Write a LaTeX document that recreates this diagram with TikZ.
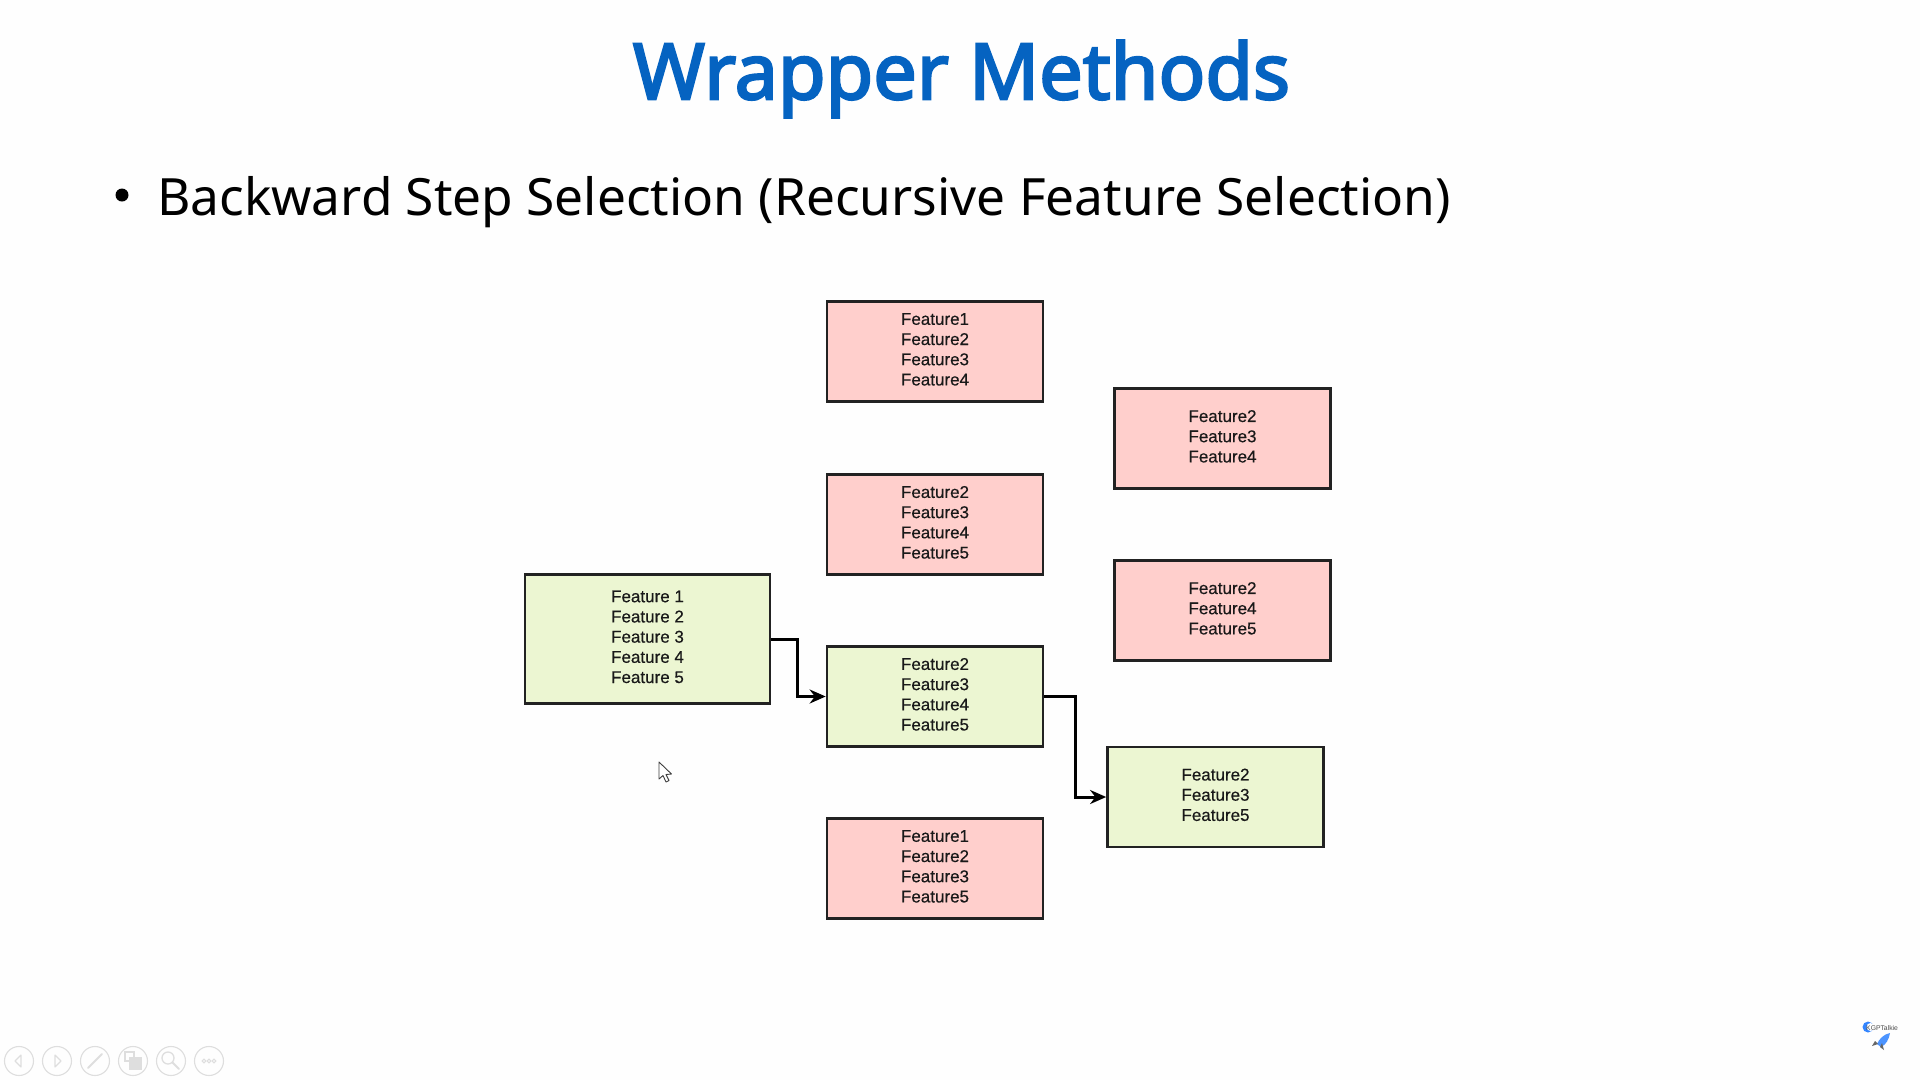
\documentclass[tikz,border=0pt]{standalone}
\usepackage{fontspec}
\setmainfont{Liberation Sans}
\newfontfamily\slidefont{Noto Sans}
\newfontfamily\titlefont[FakeBold=3]{Noto Sans}
\newfontfamily\boxfont[FakeBold=0.4]{Liberation Sans}
\usetikzlibrary{arrows.meta}
\definecolor{pagebg}{HTML}{FEFEFE}
\definecolor{pinkfill}{HTML}{FFCFCC}
\definecolor{greenfill}{HTML}{ECF6D2}
\definecolor{edgecol}{HTML}{222222}
\definecolor{titleblue}{HTML}{0563C1}
\definecolor{toolcol}{HTML}{DEDEDE}
\tikzset{
  x=1pt,y=-1pt,
  fbox/.style={draw=edgecol,line width=2.7pt,minimum width=216pt,minimum height=100pt,inner sep=0pt,
    align=center,text depth=4.5pt,font=\boxfont\fontsize{17}{20.2}\selectfont,text=black!90},
  pinkbox/.style={fbox,fill=pinkfill},
  greenbox/.style={fbox,fill=greenfill},
  conn/.style={draw=black,line width=3pt,-{Stealth[length=16pt,width=14pt]}},
  toolring/.style={draw=toolcol,line width=1.1pt,circle,minimum size=29pt,inner sep=0pt},
  toolmark/.style={draw=toolcol,line width=1.1pt}
}
\begin{document}
\begin{tikzpicture}
\useasboundingbox (0,0) rectangle (1920,1080);
\fill[pagebg] (0,0) rectangle (1920,1080);
\node[anchor=center,text=titleblue,inner sep=0pt] (title) at (961.5,79)
  {\titlefont\fontsize{77.4}{80}\selectfont Wrapper Methods};
\fill[black] (122,195) circle (6.5);
\node[anchor=west,inner sep=0pt,text=black] (sub) at (157,202)
  {\slidefont\fontsize{51.4}{56}\selectfont Backward Step Selection (Recursive Feature Selection)};

\node[pinkbox] (t1) at (935,351.5) {Feature1\\Feature2\\Feature3\\Feature4};
\node[pinkbox] (t2) at (935,524.5) {Feature2\\Feature3\\Feature4\\Feature5};
\node[greenbox] (t3) at (935,696.5) {Feature2\\Feature3\\Feature4\\Feature5};
\node[pinkbox] (t4) at (935,868.5) {Feature1\\Feature2\\Feature3\\Feature5};
\node[greenbox,minimum width=245pt,minimum height=129pt] (s) at (647.5,639) {Feature 1\\Feature 2\\Feature 3\\Feature 4\\Feature 5};
\node[pinkbox] (r1) at (1222.5,438.5) {Feature2\\Feature3\\Feature4};
\node[pinkbox] (r2) at (1222.5,610.5) {Feature2\\Feature4\\Feature5};
\node[greenbox] (r3) at (1215.5,797) {Feature2\\Feature3\\Feature5};

\coordinate (e1) at (797,670);
\coordinate (e2) at (1075.5,750);
\draw[conn] (s.east) -- (s.east -| e1) -- (e1 |- t3.west) -- (t3.west);
\draw[conn] (t3.east) -- (t3.east -| e2) -- (e2 |- r3.west) -- (r3.west);

% mouse pointer
\draw[fill=white,draw=black!75,line width=0.9pt,line join=round]
  (659,762) -- (659,779) -- (663,775.5) -- (666,782) -- (669,780.5) -- (666,774.5) -- (671.5,774) -- cycle;

% presenter toolbar
\node[toolring] (b1) at (19,1061) {};
\node[toolring] (b2) at (57,1061) {};
\node[toolring] (b3) at (95,1061) {};
\node[toolring] (b4) at (133,1061) {};
\node[toolring] (b5) at (171,1061) {};
\node[toolring] (b6) at (209,1061) {};
\draw[toolmark,line join=round] (21,1055) -- (15,1061) -- (21,1067) -- cycle;
\draw[toolmark,line join=round] (55,1055) -- (61,1061) -- (55,1067) -- cycle;
\draw[toolmark,line width=2pt,line cap=round] (88,1068) -- (102,1054);
\draw[toolmark] (125,1052) rectangle (134,1061);
\draw[toolmark,fill=toolcol] (130,1058) rectangle (141,1069);
\draw[toolmark,line width=1.3pt] (168,1058) circle (6);
\draw[toolmark,line width=2pt,line cap=round] (172.5,1062.5) -- (179,1069);
\foreach \dx in {-5,0,5} \draw[toolmark] (209+\dx,1061) circle (1.8);

% logo
\fill[blue!60!cyan!80] (1868,1027) circle (5.5);
\fill[white] (1870.5,1027) circle (4);
\node[anchor=west,inner sep=0pt,text=black!70] (logo) at (1866,1028) {\fontsize{6.8}{7}\selectfont KGPTalkie};
\fill[blue!60!cyan!70] (1890,1033) .. controls (1884,1034) and (1879,1039) .. (1877,1044) -- (1881,1047) .. controls (1886,1045) and (1889,1039) .. (1890,1033) -- cycle;
\fill[black!60] (1875,1041) -- (1872,1046) -- (1878,1044) -- cycle;
\fill[black!60] (1880,1047) -- (1882,1043) -- (1884,1050) -- cycle;
\end{tikzpicture}
\end{document}
